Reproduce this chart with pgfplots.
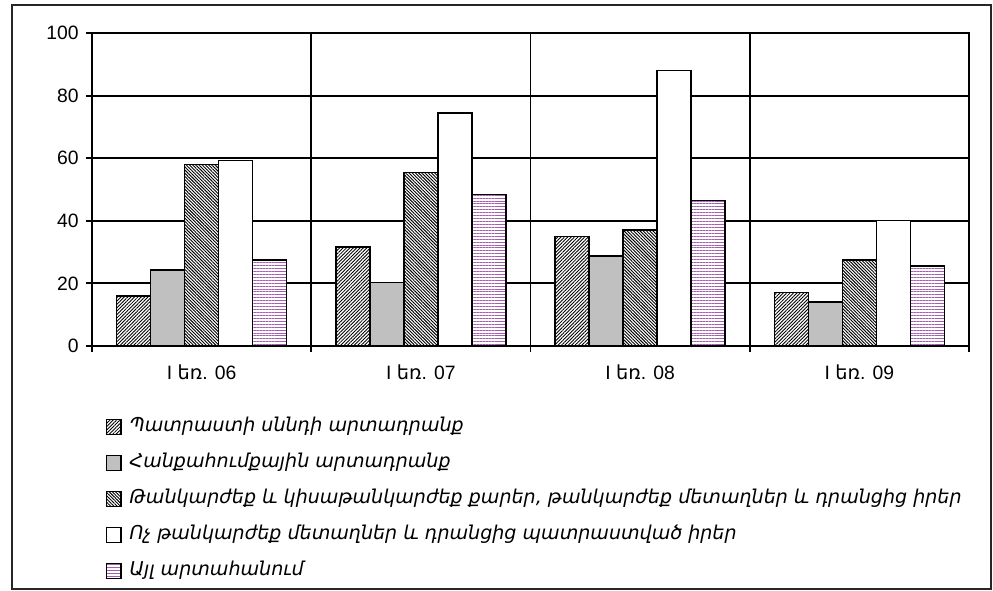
\documentclass[border=0pt]{standalone}
\usepackage{pgfplots}
\pgfplotsset{compat=1.18}
\usepackage{fontspec}
\setmainfont{Liberation Sans}
\newfontfamily\arm{DejaVu Sans}[ItalicFont={DejaVu Sans Oblique}]
\usetikzlibrary{patterns.meta}
\definecolor{silv}{HTML}{C0C0C0}
\definecolor{purp}{HTML}{A45EB0}
\pgfplotsset{myleg/.style={legend image code/.code={\draw[##1,line width=1pt] (0pt,-5.5pt) rectangle (11pt,5.5pt);}}}
\begin{document}
\begin{tikzpicture}
\begin{axis}[
  scale only axis, width=657.75pt, height=234.75pt,
  at={(0pt,0pt)}, anchor=south west,
  ybar=0pt, bar width=0.155,
  xmin=-0.5, xmax=3.5, ymin=0, ymax=100,
  xtick={0,1,2,3},
  xticklabels={{I {\arm եռ}. 06},{I {\arm եռ}. 07},{I {\arm եռ}. 08},{I {\arm եռ}. 09}},
  minor xtick={-0.5,0.5,1.5,2.5,3.5},
  xminorgrids, ymajorgrids,
  ytick={0,20,40,60,80,100},
  tick align=outside, xtick pos=bottom, ytick pos=left,
  major tick length=4.5pt, minor tick length=4.5pt,
  major x tick style={draw=none},
  axis line style={line width=1.5pt},
  grid style={black, line width=1.4pt},
  minor grid style={black, line width=1.4pt},
  tick style={black, line width=1.4pt},
  tick label style={font=\fontsize{14.5}{17}\selectfont},
  /pgf/number format/assume math mode=true,
  xticklabel style={yshift=-6pt},
  yticklabel style={xshift=-2pt},
  legend style={at={(axis description cs:0,0)}, anchor=north west, xshift=7pt, yshift=-50pt,
    draw=none, fill=none, legend cell align=left, row sep=10pt,
    nodes={inner sep=2pt, text height=10pt, text depth=3pt},
    font=\arm\itshape\fontsize{14.3}{16}\selectfont},
  legend style={/tikz/every odd column/.append style={column sep=4pt}},
]
\addplot[myleg, draw=black, line width=1.1pt, preaction={fill=white}, pattern={Lines[angle=45,distance=1.8pt,line width=0.65pt]}, pattern color=black]
  coordinates {(0,16.0) (1,31.7) (2,34.9) (3,17.1)};
\addplot[myleg, draw=black, line width=1.1pt, fill=silv]
  coordinates {(0,24.3) (1,20.3) (2,28.8) (3,14.0)};
\addplot[myleg, draw=black, line width=1.1pt, preaction={fill=white}, pattern={Lines[angle=-45,distance=1.7pt,line width=0.7pt]}, pattern color=black]
  coordinates {(0,58.0) (1,55.5) (2,37.1) (3,27.5)};
\addplot[myleg, draw=black, line width=1.1pt, fill=white]
  coordinates {(0,59.2) (1,74.5) (2,88.0) (3,40.1)};
\addplot[myleg, draw=black, line width=1.1pt, preaction={fill=white}, pattern={Lines[angle=0,distance=2.2pt,line width=0.5pt]}, pattern color=purp]
  coordinates {(0,27.5) (1,48.4) (2,46.5) (3,25.6)};
\legend{Պատրաստի սննդի արտադրանք, Հանքահումքային արտադրանք, {Թանկարժեք և կիսաթանկարժեք քարեր, թանկարժեք մետաղներ և դրանցից իրեր}, Ոչ թանկարժեք մետաղներ և դրանցից պատրաստված իրեր, Այլ արտահանում}
\end{axis}
\draw[line width=1.6pt, black!85] (-60pt,-182.25pt) rectangle (674.25pt,255.75pt);
\pgfresetboundingbox
\path[use as bounding box] (-69pt,-183.75pt) rectangle (675.75pt,259.5pt);
\end{tikzpicture}
\end{document}
